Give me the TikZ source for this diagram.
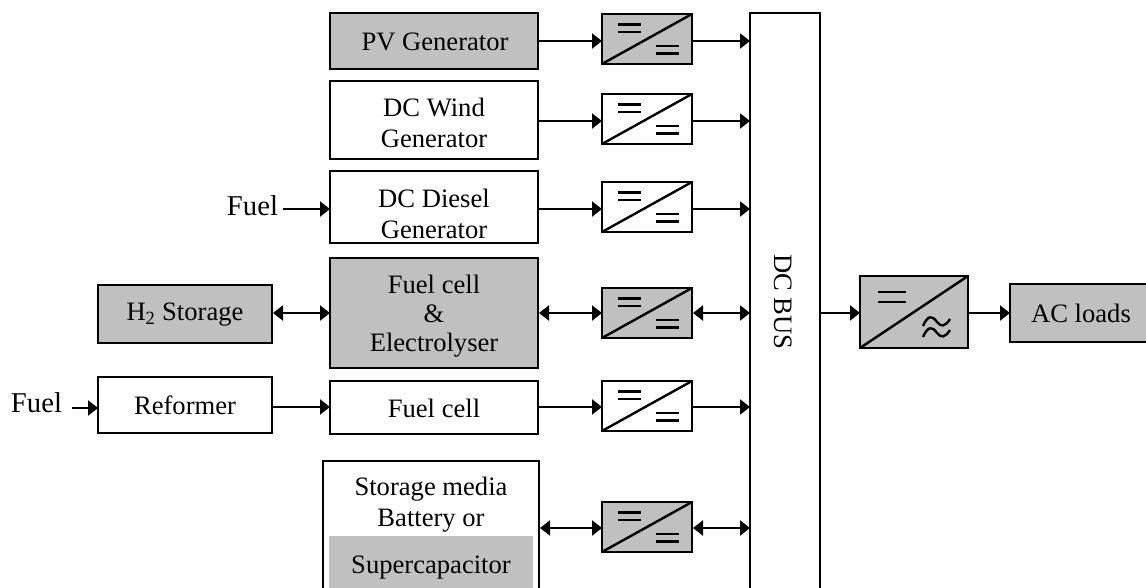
\documentclass[tikz,border=0pt]{standalone}
\usepackage{fontspec}
\setmainfont{Liberation Serif}
\usetikzlibrary{arrows.meta}
\definecolor{boxgray}{HTML}{C0C0C0}
\tikzset{
  x=1pt,y=-1pt,
  every node/.style={font=\fontsize{26.6}{31}\selectfont,align=center,inner sep=0pt,outer sep=0pt},
  blockbox/.style={draw=black,line width=2.4pt,fill=white},
  graybox/.style={blockbox,fill=boxgray},
  conv/.style={line width=2.4pt,draw=black,fill=white},
  graycv/.style={conv,fill=boxgray},
  link/.style={line width=2.2pt,-{Triangle[length=10pt,width=15pt]}},
  dlink/.style={line width=2.2pt,{Triangle[length=10pt,width=15pt]}-{Triangle[length=10pt,width=15pt]},shorten <=1pt},
  sym/.style={line width=2.4pt},
  fuellabel/.style={font=\fontsize{28.7}{31}\selectfont,anchor=east},
}
% #1 name, #2 style, #3 left, #4 top, #5 right, #6 bottom, #7 text
\newcommand{\blk}[7]{\node[#2,minimum width=#5pt-#3pt,minimum height=#6pt-#4pt,anchor=center] (#1) at ({(#3+#5)/2},{(#4+#6)/2}) {#7};}
% converter: name, style, top y
\newcommand{\cvt}[3]{%
  \node[#2,minimum width=90pt,minimum height=50pt,anchor=north west] (#1) at (602,#3) {};
  \draw[line width=2.4pt] (#1.south west) -- (#1.north east);
  \draw[sym] ([xshift=15.5pt,yshift=-10.5pt]#1.north west) -- ++(23,0);
  \draw[sym] ([xshift=15.5pt,yshift=-18pt]#1.north west) -- ++(23,0);
  \draw[sym] ([xshift=-13.5pt,yshift=18pt]#1.south east) -- ++(-23,0);
  \draw[sym] ([xshift=-13.5pt,yshift=10.5pt]#1.south east) -- ++(-23,0);
}
\begin{document}
\begin{tikzpicture}
\useasboundingbox (0,0) rectangle (1146,588);
\fill[white] (0,0) rectangle (1146,588);
\coordinate (r1) at (0,41);
\coordinate (r2) at (0,121);
\coordinate (r3) at (0,209);
\coordinate (r4) at (0,313);
\coordinate (r5) at (0,407);
\coordinate (r6) at (0,528);
\coordinate (r7) at (0,313);
\blk{pv}{graybox}{330}{13}{538}{69}{}
\blk{wind}{blockbox}{330}{81}{538}{159}{}
\blk{diesel}{blockbox}{330}{171}{538}{243}{}
\blk{fcel}{graybox}{330}{258}{538}{368}{}
\blk{fc}{blockbox}{330}{381}{538}{434}{}
\blk{h2}{graybox}{98}{285}{272}{343}{}
\blk{ref}{blockbox}{98}{377}{272}{433}{}
\blk{store}{blockbox}{323}{461}{539}{620}{}
\blk{super}{}{329}{536}{533}{600}{}
\fill[boxgray] (super.north west) rectangle (super.south east);
\node (pvt) at (435,42) {PV Generator};
\node (windt) at (434,123) {DC Wind\\Generator};
\node (dieselt) at (434,214) {DC Diesel\\Generator};
\node[font=\fontsize{26.6}{29}\selectfont] (fcelt) at (434,316) {Fuel cell\\\&\\Electrolyser};
\node (fct) at (434,408) {Fuel cell};
\node (h2t) at (185,315) {H\textsubscript{2} Storage};
\node (reft) at (185,405) {Reformer};
\node (stxt) at (431,505) {Storage media\\Battery or};
\node (suptxt) at (431,568) {Supercapacitor};
\blk{bus}{blockbox}{750}{13}{820}{620}{}
\node[rotate=-90] (bustxt) at (783,302) {DC BUS};
\cvt{c1}{graycv}{14}
\cvt{c2}{conv}{94}
\cvt{c3}{conv}{182}
\cvt{c4}{graycv}{288}
\cvt{c5}{conv}{381}
\cvt{c6}{graycv}{502}
\node[graycv,minimum width=108pt,minimum height=72pt,anchor=north west] (inv) at (860,276) {};
\draw[line width=2.4pt] (inv.south west) -- (inv.north east);
\draw[sym] (878,292) -- (906,292);
\draw[sym] (878,302) -- (906,302);
\draw[sym] (923,326) .. controls (928,315) and (932,315) .. (937,322) .. controls (941,327) and (945,327) .. (950,319);
\draw[sym] (923,337) .. controls (928,326) and (932,326) .. (937,333) .. controls (941,338) and (945,338) .. (950,330);
\blk{ac}{graybox}{1010}{284}{1150}{342}{}
\node (actxt) at (1081,313) {AC loads};
\node[fuellabel] (fuela) at (278,206) {Fuel};
\node[fuellabel] (fuelb) at (62,403) {Fuel};
\coordinate (fa) at (283,209);
\coordinate (fb) at (72,408);
% connectors
\draw[link] (pv.east |- r1) -- (c1.west |- r1);
\draw[link] (wind.east |- r2) -- (c2.west |- r2);
\draw[link] (diesel.east |- r3) -- (c3.west |- r3);
\draw[dlink] (fcel.east |- r4) -- (c4.west |- r4);
\draw[link] (fc.east |- r5) -- (c5.west |- r5);
\draw[dlink] (store.east |- r6) -- (c6.west |- r6);
\draw[link] (c1.east |- r1) -- (bus.west |- r1);
\draw[link] (c2.east |- r2) -- (bus.west |- r2);
\draw[link] (c3.east |- r3) -- (bus.west |- r3);
\draw[dlink] (c4.east |- r4) -- (bus.west |- r4);
\draw[link] (c5.east |- r5) -- (bus.west |- r5);
\draw[dlink] (c6.east |- r6) -- (bus.west |- r6);
\draw[link] (fa) -- (fa -| diesel.west);
\draw[link] (fb) -- (fb -| ref.west);
\draw[dlink] (h2.east |- r4) -- (fcel.west |- r4);
\draw[link] (ref.east |- r5) -- (fc.west |- r5);
\draw[link] (bus.east |- r7) -- (inv.west |- r7);
\draw[link] (inv.east |- r7) -- (ac.west |- r7);
\end{tikzpicture}
\end{document}
